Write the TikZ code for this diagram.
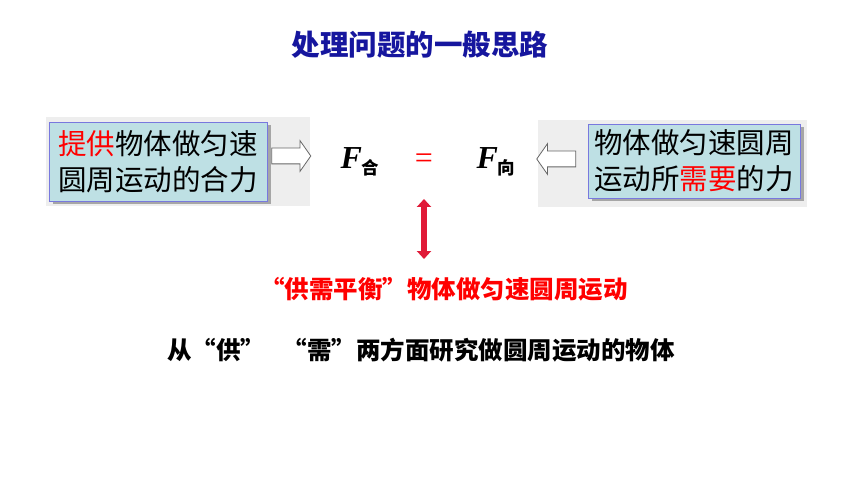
\documentclass[tikz,border=0pt]{standalone}
\usepackage{fontspec}
\setmainfont{Noto Sans CJK SC}
\newfontfamily\tnr{Liberation Serif}
\usepackage{tikz}
\usetikzlibrary{arrows.meta}
\usetikzlibrary{shapes.arrows}
\usetikzlibrary{shadows}
\usetikzlibrary{positioning}
\definecolor{titleblue}{RGB}{22,22,158}
\definecolor{cardfill}{RGB}{190,224,228}
\definecolor{cardline}{RGB}{120,120,222}
\definecolor{panelgrey}{RGB}{238,238,238}
\definecolor{crimson}{RGB}{224,26,56}
\tikzset{panel/.style={rectangle,fill=panelgrey,draw=none,inner sep=0pt}}
\tikzset{card/.style={rectangle,fill=cardfill,draw=cardline,line width=0.8pt,inner sep=0pt,align=center,
  font=\fontsize{28.5}{36}\selectfont,
  drop shadow={shadow xshift=3.5pt,shadow yshift=-3pt,fill=black!35,opacity=1}}}
\tikzset{hollow/.style={single arrow,draw=black!60,fill=white,line width=0.8pt,inner xsep=0pt,inner ysep=7.5pt,
  single arrow head extend=7.5pt,single arrow head indent=0pt,single arrow tip angle=110,minimum height=39pt}}
\tikzset{force/.style={inner sep=0pt,font=\fontsize{32}{34}\selectfont}}
\newcommand{\Fsub}[1]{{\tnr\bfseries\itshape F}\raisebox{-6pt}{\fontsize{17.5}{20}\selectfont\bfseries #1}}

\begin{document}
\begin{tikzpicture}[x=1pt,y=-1pt]
\useasboundingbox[fill=white] (0,0) rectangle (860,484);
\node[inner sep=0pt,text=titleblue,font=\fontsize{28.5}{30}\selectfont\bfseries] (head) at (420,45) {处理问题的一般思路};

\node[panel,minimum width=264pt,minimum height=89pt] (pL) at (178,161.5) {};
\node[card,minimum width=218pt,minimum height=79pt] (supply) at (158,161.5)
  {{\color{red}提供}物体做匀速\\圆周运动的合力};
\node[hollow] (aL) at (288.5,156) {};

\node[panel,minimum width=269pt,minimum height=87pt] (pR) at (672.5,163.5) {};
\node[card,minimum width=212pt,minimum height=74pt] (demand) at (694,161)
  {物体做匀速圆周\\运动所{\color{red}需要}的力};
\node[hollow,shape border rotate=180] (aR) at (559,159) {};

\node[force] (Fsum) at (360,162) {\Fsub{合}};
\node[force,text=red,font=\fontsize{32}{34}\selectfont\tnr] (eq) at (424,161) {=};
\node[force] (Fcen) at (496,162) {\Fsub{向}};

\coordinate (eqlow) at (424,199);
\coordinate (balhigh) at (424,259);
\draw[crimson,line width=5.5pt,{Triangle[width=14pt,length=8pt]}-{Triangle[width=14pt,length=8pt]}] (eqlow) -- (balhigh);

\node[inner sep=0pt,text=red,font=\fontsize{24.5}{26}\selectfont\bfseries] (bal) at (444,289) {“供需平衡”物体做匀速圆周运动};
\node[inner sep=0pt,font=\fontsize{24.5}{26}\selectfont\bfseries] (aim) at (421,350) {从“供”\hspace{18pt}“需”两方面研究做圆周运动的物体};
\end{tikzpicture}
\end{document}
